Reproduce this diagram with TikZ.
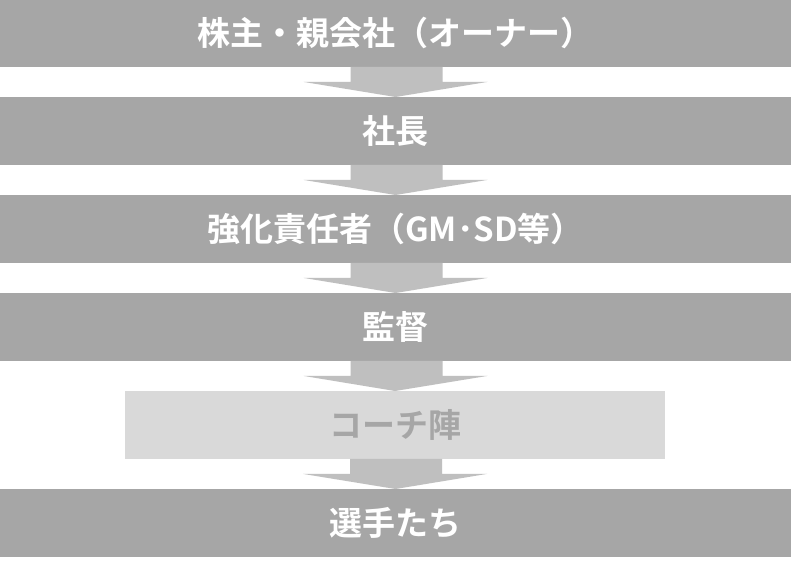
\documentclass[tikz,border=0pt]{standalone}
\usepackage{fontspec}
\newfontfamily\jpfont{Noto Sans CJK JP}[BoldFont={Noto Sans CJK JP Bold}]
\definecolor{boxgray}{HTML}{A6A6A6}
\definecolor{arrowgray}{HTML}{BFBFBF}
\definecolor{lightbox}{HTML}{D9D9D9}
\definecolor{lighttext}{HTML}{A6A6A6}
\tikzset{
  tier/.style={fill=boxgray, draw=none, minimum width=793pt, minimum height=67.5pt,
    inner sep=0pt, anchor=north, text=white, font=\jpfont\bfseries\fontsize{33}{33}\selectfont},
  tierlight/.style={tier, fill=lightbox, minimum width=540pt, text=lighttext},
  downarrow/.style={fill=arrowgray, draw=none}
}
\begin{document}
\begin{tikzpicture}[x=1pt,y=-1pt]
\useasboundingbox (0,0) rectangle (791,563);
\fill[white] (0,0) rectangle (791,563);
\node[tier] (owner) at (395.5,-1) {株主・親会社（オーナー）};
\node[tier] (pres) at (395.5,97) {社長};
\node[tier] (gm) at (395.5,195) {強化責任者（GM･SD等）};
\node[tier] (mgr) at (395.5,293) {監督};
\node[tierlight] (coach) at (395,391) {コーチ陣};
\node[tier] (players) at (395.5,489) {選手たち};
\foreach \a/\b in {owner/pres, pres/gm, gm/mgr, mgr/coach, coach/players}{
  \path (\a.south) coordinate (s) (\b.north) coordinate (t);
  \fill[downarrow] ([xshift=-45pt]s) -- ([xshift=47pt]s) -- ([xshift=47pt,yshift=-15pt]s)
    -- ([xshift=92pt,yshift=-15pt]s) -- (t) -- ([xshift=-92pt,yshift=-15pt]s)
    -- ([xshift=-45pt,yshift=-15pt]s) -- cycle;
}
\end{tikzpicture}
\end{document}
